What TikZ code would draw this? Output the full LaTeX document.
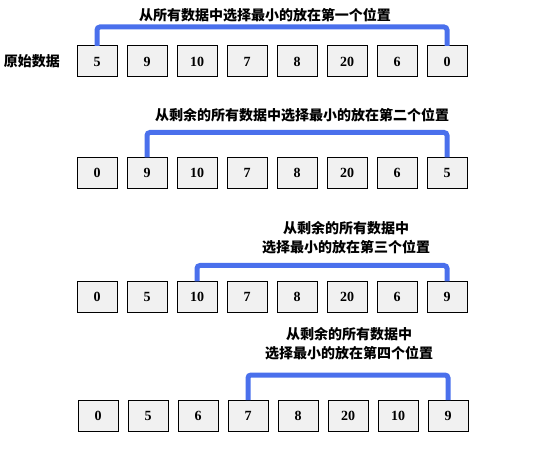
\documentclass[tikz,border=0pt]{standalone}
\usepackage{fontspec}
\setmainfont{Liberation Serif}
\newfontfamily\cjk{Noto Sans CJK SC}
\definecolor{barblue}{RGB}{74,112,236}
\definecolor{cellgray}{RGB}{241,241,241}

\begin{document}
\begin{tikzpicture}[x=1pt,y=-1pt,
	cell/.style={ draw, line width=1pt, fill=cellgray, inner sep=0pt, outer sep=0pt, minimum width=40pt, minimum height=31pt, font=\fontsize{14}{16}\selectfont\bfseries },
	note/.style={ align=center, inner sep=0pt, font=\fontsize{14}{19}\selectfont\cjk\bfseries },
	bracket/.style={ barblue, line width=5pt, rounded corners=3pt }
]
\useasboundingbox (0,0) rectangle (552,457);

% original data
\node at (32,61.5) (orig) [note] {原始数据};
\foreach \v [count=\i] in {5,9,10,7,8,20,6,0}
	\node at ({47+50*\i},61.5) (a\i) [cell] {\v};
\node at (265,15) (t1) [note] {从所有数据中选择最小的放在第一个位置};
\draw[bracket] (a1.north) -- ++(0,-19) -| (a8.north);

% second pass
\foreach \v [count=\i] in {0,9,10,7,8,20,6,5}
	\node at ({47+50*\i},173) (b\i) [cell] {\v};
\node at (302,115) (t2) [note] {从剩余的所有数据中选择最小的放在第二个位置};
\draw[bracket] (b2.north) -- ++(0,-25) -| (b8.north);

% third pass
\foreach \v [count=\i] in {0,5,10,7,8,20,6,9}
	\node at ({47+50*\i},297) (c\i) [cell] {\v};
\node at (346,237.5) (t3) [note] {从剩余的所有数据中\\选择最小的放在第三个位置};
\draw[bracket] (c3.north) -- ++(0,-16) -| (c8.north);

% fourth pass
\foreach \v [count=\i] in {0,5,6,7,8,20,10,9}
	\node at ({48+50*\i},415.5) (d\i) [cell] {\v};
\node at (349,344) (t4) [note] {从剩余的所有数据中\\选择最小的放在第四个位置};
\draw[bracket] (d4.north) -- ++(0,-25) -| (d8.north);

\end{tikzpicture}
\end{document}
